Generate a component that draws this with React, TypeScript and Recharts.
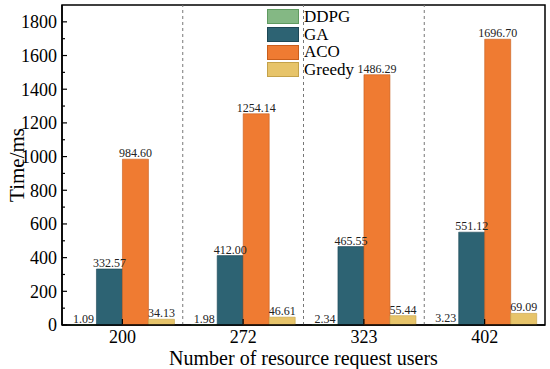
import React from 'react';
import {
  BarChart,
  Bar,
  XAxis,
  YAxis,
  LabelList,
  ReferenceLine,
  ReferenceArea,
} from 'recharts';

const users = ['200', '272', '323', '402'];
const ddpg = [1.09, 1.98, 2.34, 3.23];
const ga = [332.57, 412.0, 465.55, 551.12];
const aco = [984.6, 1254.14, 1486.29, 1696.7];
const greedy = [34.13, 46.61, 55.44, 69.09];
const yTicks = [0, 100, 200, 300, 400, 500, 600, 700, 800, 900, 1000, 1100, 1200, 1300, 1400, 1500, 1600, 1700, 1800];

const series = [
  { key: 'DDPG', fill: '#84b884', stroke: '#5f9a60' },
  { key: 'GA', fill: '#2d6373', stroke: '#1d4755' },
  { key: 'ACO', fill: '#ef7b32', stroke: '#c85e1c' },
  { key: 'Greedy', fill: '#e7c46a', stroke: '#c4a24a' },
];

const data = users.map((u, i) => ({
  users: u,
  DDPG: ddpg[i],
  GA: ga[i],
  ACO: aco[i],
  Greedy: greedy[i],
}));

const FONT = '"Liberation Serif", "Times New Roman", serif';

const YTick = (props: any) => {
  const { x, y, payload } = props;
  const major = payload.value % 200 === 0;
  return (
    <g>
      <line x1={x + 5} x2={x + 5 + (major ? 5 : 3)} y1={y} y2={y} stroke="#000" strokeWidth={1.2} />
      {major && (
        <text x={x} y={y} dy="0.35em" textAnchor="end" fontSize={18} fontFamily={FONT} fill="#000">
          {payload.value}
        </text>
      )}
    </g>
  );
};

const XTick = (props: any) => {
  const { x, y, payload } = props;
  return (
    <g>
      <line x1={x} x2={x} y1={y - 6} y2={y - 11} stroke="#000" strokeWidth={1.2} />
      <text x={x} y={y} dy="0.71em" textAnchor="middle" fontSize={18} fontFamily={FONT} fill="#000">
        {payload.value}
      </text>
    </g>
  );
};

const LegendBox = () => (
  <div
    style={{
      position: 'absolute',
      left: 267,
      top: 8,
      fontFamily: FONT,
      fontSize: 17,
      lineHeight: '17.7px',
    }}
  >
    {series.map((s) => (
      <div key={s.key} style={{ display: 'flex', alignItems: 'center', height: 17.7 }}>
        <span
          style={{
            display: 'inline-block',
            width: 32,
            height: 15,
            background: s.fill,
            border: `1px solid ${s.stroke}`,
            marginRight: 5,
            boxSizing: 'border-box',
          }}
        />
        <span>{s.key}</span>
      </div>
    ))}
  </div>
);

export default function App() {
  return (
    <div style={{ position: 'absolute', left: 0, top: 0, width: 550, height: 369, background: '#fff' }}>
      <BarChart
        width={550}
        height={369}
        data={data}
        margin={{ top: 5, right: 5, left: 0, bottom: 0 }}
        barCategoryGap="7%"
        barGap={0}
      >
        <XAxis
          xAxisId="cat"
          dataKey="users"
          height={44}
          tickLine={false}
          tickSize={0}
          tickMargin={5}
          tick={<XTick />}
          axisLine={{ stroke: '#000', strokeWidth: 1.5 }}
          label={{
            value: 'Number of resource request users',
            position: 'insideBottom',
            offset: 4,
            style: { fontFamily: FONT, fontSize: 20, fill: '#000' },
          }}
        />
        <YAxis
          width={62}
          domain={[0, 1900]}
          ticks={yTicks}
          interval={0}
          tickLine={false}
          tickSize={0}
          tickMargin={5}
          tick={<YTick />}
          axisLine={{ stroke: '#000', strokeWidth: 1.5 }}
          label={{
            value: 'Time/ms',
            angle: -90,
            position: 'insideLeft',
            offset: 17,
            style: { fontFamily: FONT, fontSize: 21, fill: '#000', textAnchor: 'middle' },
          }}
        />
        <ReferenceArea
          xAxisId="cat"
          x1={users[0]}
          x2={users[users.length - 1]}
          y1={0}
          y2={1900}
          fill="none"
          stroke="#000"
          strokeWidth={1.5}
          ifOverflow="visible"
        />
        {users.slice(1).map((u) => (
          <ReferenceLine
            key={u}
            xAxisId="cat"
            x={u}
            position="start"
            stroke="#777"
            strokeDasharray="3 3"
            strokeWidth={1}
          />
        ))}
        {series.map((s) => (
          <Bar
            key={s.key}
            xAxisId="cat"
            dataKey={s.key}
            fill={s.fill}
            stroke={s.stroke}
            strokeWidth={0.6}
            isAnimationActive={false}
          >
            <LabelList
              dataKey={s.key}
              position="top"
              offset={2}
              formatter={(v: any) => Number(v).toFixed(2)}
              style={{ fontFamily: FONT, fontSize: 12, fill: '#222' }}
            />
          </Bar>
        ))}
      </BarChart>
      <LegendBox />
    </div>
  );
}
